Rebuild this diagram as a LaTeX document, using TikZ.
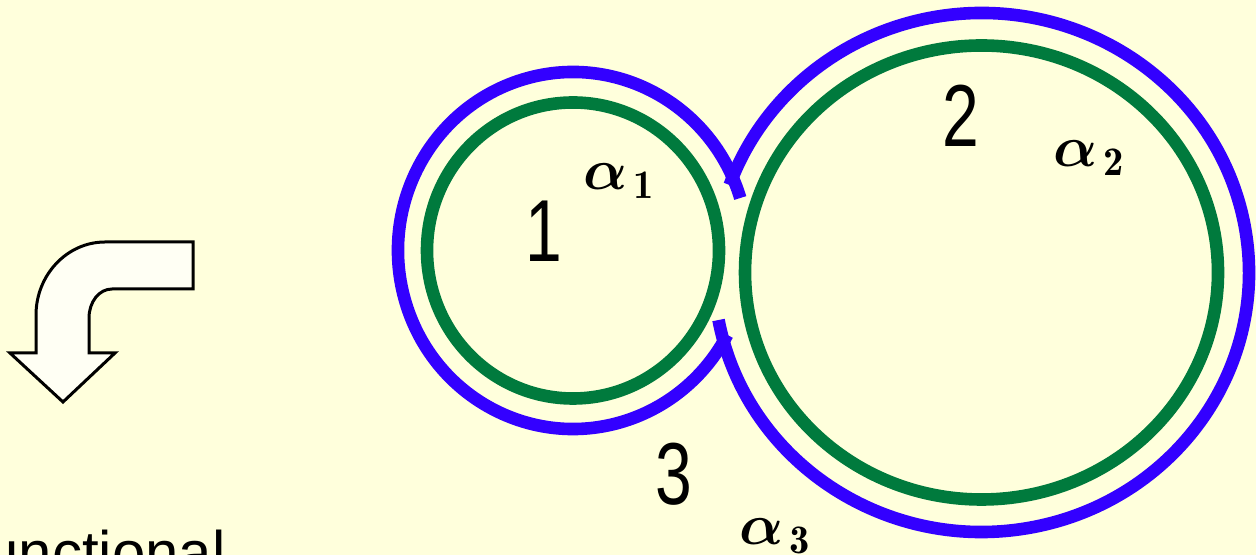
\documentclass[tikz,border=0pt]{standalone}
\usepackage{amsmath}
\usepackage{fontspec}
\newfontfamily\slidesans{Liberation Sans}
\definecolor{rgPaper}{HTML}{FFFFDC}
\definecolor{rgBlue}{HTML}{3300FF}
\definecolor{rgGreen}{HTML}{007A3D}
\definecolor{rgArrow}{HTML}{FFFFF4}
\tikzset{
  outline/.style={draw=rgBlue, line width=6.3pt},
  ring/.style={draw=rgGreen, line width=6.3pt},
  numlbl/.style={font=\slidesans\fontsize{44}{44}\selectfont, xscale=0.75,
    anchor=base, inner sep=0pt},
  alphalbl/.style={scale=2.9, anchor=base, inner sep=0pt},
  bendarrow/.style={draw=black, line width=1.5pt, fill=rgArrow, line join=miter},
  slidetext/.style={font=\slidesans\fontsize{30}{30}\selectfont, anchor=base west,
    inner sep=0pt},
}
\newcommand{\regw}[1]{$\boldsymbol{\alpha}_{\mkern2mu\mathbf{#1}}$}

\begin{document}
\begin{tikzpicture}[x=0.5pt, y=0.5pt]
  \useasboundingbox (0,0) rectangle (1256,555);
  \fill[rgPaper] (0,0) rectangle (1256,555);
  \clip (0,0) rectangle (1256,555);

  % centres of the two regions
  \coordinate (c1) at (573,304.5);
  \coordinate (c2) at (981.5,282.5);

  % inner rings
  \draw[ring] (c1) ellipse[x radius=146, y radius=148];
  \draw[ring] (c2) ellipse[x radius=236.5, y radius=227];

  % outer boundary
  \draw[outline] ([shift={(17.1:175 and 178.5)}]c1)
    arc[start angle=17.1, end angle=331.8, x radius=175, y radius=178.5];
  \draw[outline] ([shift={(190.55:267.5 and 259.5)}]c2)
    arc[start angle=190.55, end angle=520.3, x radius=267.5, y radius=259.5];

  % labels
  \node[numlbl] (n1) at (544,293) {1};
  \node[numlbl] (n2) at (961,408) {2};
  \node[numlbl] (n3) at (674,50) {3};
  \node[alphalbl] (a1) at (620,365) {\regw{1}};
  \node[alphalbl] (a2) at (1090,388) {\regw{2}};
  \node[alphalbl] (a3) at (776,10) {\regw{3}};

  % bent arrow
  \draw[bendarrow] (193,313) -- (105,313) .. controls (67,313) and (36,280) .. (36,240)
    -- (36,202) -- (10,202) -- (63,153) -- (115,202) -- (89,202) -- (89,237)
    .. controls (89,253) and (99,266) .. (112,266) -- (193,266) -- cycle;

  \node[slidetext] (caption) at (-15,-18.5) {unctional};
\end{tikzpicture}
\end{document}
